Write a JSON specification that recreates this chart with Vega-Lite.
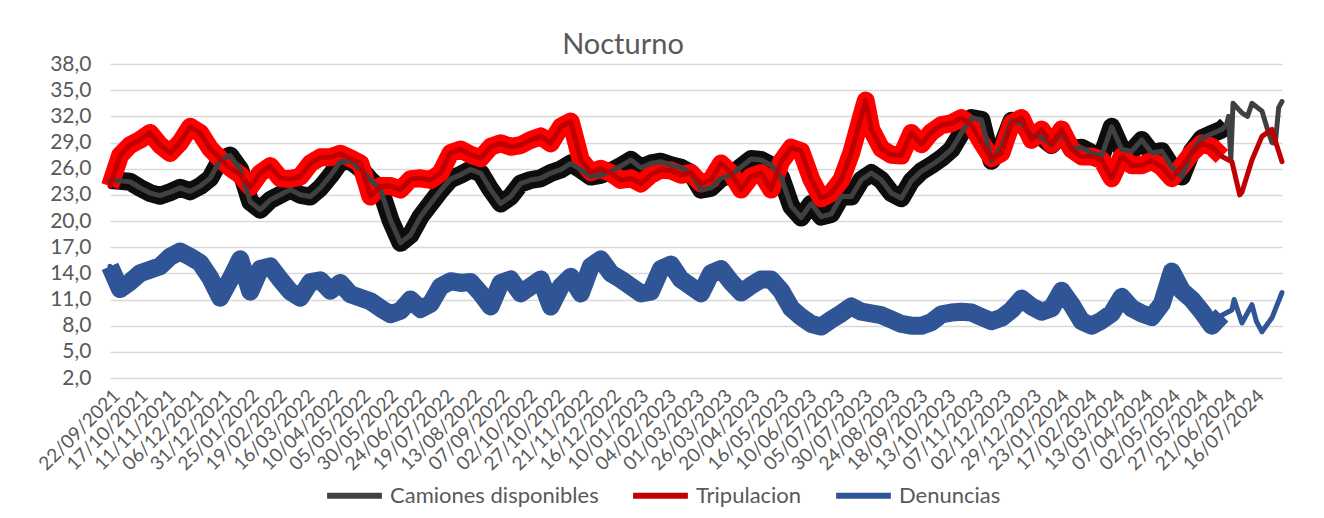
{
  "$schema": "https://vega.github.io/schema/vega-lite/v6.json",
  "width": 1172,
  "height": 314,
  "autosize": {"type": "none"},
  "padding": {"left": 110, "top": 64, "right": 42, "bottom": 140},
  "background": "white",
  "config": {"font": "Lato", "view": {"stroke": null}},
  "title": {"text": "Nocturno", "fontSize": 29, "font": "Lato", "fontWeight": "normal", "color": "#595959", "dx": -73, "dy": 15, "offset": 8},
  "data": {
    "format": {"parse": {"date": "utc:'%Y-%m-%d'"}},
    "values": [
      {"date": "2021-09-22", "cam": 24.7, "tri": 24.0, "den": 14.8},
      {"date": "2021-10-01", "cam": 24.6, "tri": 27.5, "den": 12.2},
      {"date": "2021-10-10", "cam": 24.5, "tri": 28.7, "den": 13.0},
      {"date": "2021-10-19", "cam": 23.8, "tri": 29.3, "den": 14.0},
      {"date": "2021-10-28", "cam": 23.2, "tri": 30.1, "den": 14.4},
      {"date": "2021-11-06", "cam": 22.9, "tri": 28.7, "den": 14.8},
      {"date": "2021-11-15", "cam": 23.3, "tri": 27.8, "den": 15.9},
      {"date": "2021-11-24", "cam": 23.8, "tri": 29.0, "den": 16.5},
      {"date": "2021-12-03", "cam": 23.4, "tri": 30.8, "den": 15.9},
      {"date": "2021-12-12", "cam": 24.0, "tri": 30.1, "den": 15.2},
      {"date": "2021-12-21", "cam": 24.9, "tri": 28.3, "den": 13.5},
      {"date": "2021-12-30", "cam": 27.0, "tri": 27.1, "den": 11.2},
      {"date": "2022-01-08", "cam": 27.5, "tri": 26.1, "den": 13.3},
      {"date": "2022-01-17", "cam": 25.9, "tri": 25.3, "den": 15.6},
      {"date": "2022-01-26", "cam": 22.2, "tri": 23.9, "den": 11.9},
      {"date": "2022-02-04", "cam": 21.3, "tri": 25.5, "den": 14.5},
      {"date": "2022-02-13", "cam": 22.4, "tri": 26.3, "den": 14.8},
      {"date": "2022-02-22", "cam": 23.0, "tri": 24.9, "den": 13.3},
      {"date": "2022-03-03", "cam": 23.6, "tri": 24.8, "den": 11.9},
      {"date": "2022-03-12", "cam": 23.0, "tri": 25.1, "den": 11.2},
      {"date": "2022-03-21", "cam": 22.8, "tri": 26.6, "den": 13.0},
      {"date": "2022-03-30", "cam": 23.8, "tri": 27.3, "den": 13.2},
      {"date": "2022-04-08", "cam": 25.2, "tri": 27.3, "den": 12.0},
      {"date": "2022-04-17", "cam": 26.8, "tri": 27.7, "den": 12.9},
      {"date": "2022-04-26", "cam": 26.9, "tri": 27.2, "den": 11.6},
      {"date": "2022-05-05", "cam": 26.0, "tri": 26.6, "den": 11.2},
      {"date": "2022-05-14", "cam": 24.7, "tri": 22.8, "den": 10.8},
      {"date": "2022-05-23", "cam": 23.6, "tri": 24.0, "den": 10.0},
      {"date": "2022-06-01", "cam": 20.1, "tri": 24.0, "den": 9.3},
      {"date": "2022-06-10", "cam": 17.5, "tri": 23.6, "den": 9.7},
      {"date": "2022-06-19", "cam": 18.4, "tri": 24.8, "den": 11.0},
      {"date": "2022-06-28", "cam": 20.5, "tri": 24.9, "den": 9.9},
      {"date": "2022-07-07", "cam": 22.0, "tri": 24.7, "den": 10.5},
      {"date": "2022-07-16", "cam": 23.5, "tri": 25.5, "den": 12.5},
      {"date": "2022-07-25", "cam": 24.8, "tri": 27.8, "den": 13.1},
      {"date": "2022-08-03", "cam": 25.3, "tri": 28.2, "den": 12.9},
      {"date": "2022-08-12", "cam": 25.9, "tri": 27.6, "den": 13.0},
      {"date": "2022-08-21", "cam": 25.5, "tri": 27.2, "den": 11.7},
      {"date": "2022-08-30", "cam": 23.6, "tri": 28.5, "den": 10.2},
      {"date": "2022-09-08", "cam": 22.0, "tri": 28.9, "den": 12.9},
      {"date": "2022-09-17", "cam": 22.8, "tri": 28.5, "den": 13.3},
      {"date": "2022-09-26", "cam": 24.3, "tri": 28.7, "den": 11.7},
      {"date": "2022-10-05", "cam": 24.7, "tri": 29.3, "den": 12.5},
      {"date": "2022-10-14", "cam": 24.9, "tri": 29.7, "den": 13.3},
      {"date": "2022-10-23", "cam": 25.5, "tri": 28.9, "den": 10.2},
      {"date": "2022-11-01", "cam": 25.9, "tri": 30.8, "den": 12.5},
      {"date": "2022-11-10", "cam": 26.6, "tri": 31.4, "den": 13.6},
      {"date": "2022-11-19", "cam": 25.9, "tri": 27.0, "den": 11.7},
      {"date": "2022-11-28", "cam": 25.1, "tri": 25.6, "den": 14.8},
      {"date": "2022-12-07", "cam": 25.3, "tri": 26.0, "den": 15.6},
      {"date": "2022-12-16", "cam": 25.7, "tri": 25.5, "den": 14.0},
      {"date": "2022-12-25", "cam": 26.3, "tri": 24.7, "den": 13.3},
      {"date": "2023-01-03", "cam": 27.0, "tri": 24.9, "den": 12.5},
      {"date": "2023-01-12", "cam": 26.1, "tri": 24.3, "den": 11.7},
      {"date": "2023-01-21", "cam": 26.6, "tri": 25.3, "den": 11.9},
      {"date": "2023-01-30", "cam": 26.8, "tri": 25.9, "den": 14.5},
      {"date": "2023-02-08", "cam": 26.4, "tri": 25.8, "den": 15.0},
      {"date": "2023-02-17", "cam": 26.1, "tri": 25.3, "den": 13.3},
      {"date": "2023-02-26", "cam": 25.5, "tri": 25.5, "den": 12.5},
      {"date": "2023-03-07", "cam": 23.6, "tri": 24.3, "den": 11.7},
      {"date": "2023-03-16", "cam": 23.8, "tri": 24.7, "den": 14.0},
      {"date": "2023-03-25", "cam": 24.9, "tri": 26.6, "den": 14.5},
      {"date": "2023-04-03", "cam": 25.3, "tri": 25.5, "den": 13.0},
      {"date": "2023-04-12", "cam": 26.2, "tri": 23.6, "den": 11.8},
      {"date": "2023-04-21", "cam": 27.1, "tri": 25.1, "den": 12.6},
      {"date": "2023-04-30", "cam": 27.0, "tri": 25.5, "den": 13.3},
      {"date": "2023-05-09", "cam": 26.4, "tri": 23.6, "den": 13.3},
      {"date": "2023-05-18", "cam": 25.0, "tri": 26.8, "den": 12.0},
      {"date": "2023-05-27", "cam": 21.7, "tri": 28.4, "den": 10.0},
      {"date": "2023-06-05", "cam": 20.4, "tri": 28.0, "den": 9.0},
      {"date": "2023-06-14", "cam": 22.0, "tri": 24.8, "den": 8.2},
      {"date": "2023-06-23", "cam": 20.5, "tri": 22.6, "den": 7.9},
      {"date": "2023-07-02", "cam": 20.8, "tri": 23.2, "den": 8.7},
      {"date": "2023-07-11", "cam": 22.8, "tri": 24.7, "den": 9.4},
      {"date": "2023-07-20", "cam": 22.8, "tri": 27.8, "den": 10.2},
      {"date": "2023-07-29", "cam": 24.7, "tri": 32.0, "den": 9.6},
      {"date": "2023-08-02", "tri": 33.8},
      {"date": "2023-08-07", "cam": 25.5, "tri": 30.5, "den": 9.4},
      {"date": "2023-08-16", "cam": 24.7, "tri": 28.3, "den": 9.2},
      {"date": "2023-08-25", "cam": 23.2, "tri": 27.6, "den": 8.7},
      {"date": "2023-09-03", "cam": 22.6, "tri": 27.5, "den": 8.2},
      {"date": "2023-09-12", "cam": 24.6, "tri": 30.1, "den": 8.0},
      {"date": "2023-09-21", "cam": 25.7, "tri": 28.8, "den": 8.0},
      {"date": "2023-09-30", "cam": 26.4, "tri": 30.2, "den": 8.4},
      {"date": "2023-10-09", "cam": 27.2, "tri": 31.0, "den": 9.3},
      {"date": "2023-10-18", "cam": 28.2, "tri": 31.2, "den": 9.5},
      {"date": "2023-10-27", "cam": 30.1, "tri": 31.8, "den": 9.6},
      {"date": "2023-11-05", "cam": 31.8, "tri": 31.0, "den": 9.5},
      {"date": "2023-11-14", "cam": 31.6, "tri": 29.0, "den": 9.0},
      {"date": "2023-11-23", "cam": 26.9, "tri": 27.2, "den": 8.5},
      {"date": "2023-12-02", "cam": 28.5, "tri": 27.8, "den": 8.9},
      {"date": "2023-12-11", "cam": 31.5, "tri": 31.2, "den": 9.8},
      {"date": "2023-12-20", "cam": 31.2, "tri": 31.8, "den": 11.1},
      {"date": "2023-12-29", "cam": 29.8, "tri": 29.3, "den": 10.2},
      {"date": "2024-01-07", "cam": 29.6, "tri": 30.5, "den": 9.6},
      {"date": "2024-01-16", "cam": 28.7, "tri": 28.8, "den": 10.0},
      {"date": "2024-01-25", "cam": 30.1, "tri": 30.5, "den": 12.0},
      {"date": "2024-02-03", "cam": 28.3, "tri": 28.2, "den": 10.4},
      {"date": "2024-02-12", "cam": 28.4, "tri": 27.4, "den": 8.5},
      {"date": "2024-02-21", "cam": 27.8, "tri": 27.4, "den": 8.0},
      {"date": "2024-03-01", "cam": 27.5, "tri": 27.0, "den": 8.6},
      {"date": "2024-03-10", "cam": 30.8, "tri": 24.9, "den": 9.4},
      {"date": "2024-03-19", "cam": 28.2, "tri": 27.4, "den": 11.3},
      {"date": "2024-03-28", "cam": 28.0, "tri": 26.4, "den": 10.0},
      {"date": "2024-04-06", "cam": 29.3, "tri": 26.4, "den": 9.4},
      {"date": "2024-04-15", "cam": 27.8, "tri": 26.9, "den": 9.0},
      {"date": "2024-04-24", "cam": 28.0, "tri": 26.2, "den": 10.5},
      {"date": "2024-05-03", "cam": 26.2, "tri": 24.9, "den": 14.2},
      {"date": "2024-05-12", "cam": 25.1, "tri": 26.3, "den": 12.0},
      {"date": "2024-05-21", "cam": 28.0, "tri": 27.8, "den": 11.0},
      {"date": "2024-05-30", "cam": 29.5, "tri": 28.9, "den": 9.6},
      {"date": "2024-06-08", "cam": 30.0, "tri": 28.5, "den": 8.0},
      {"date": "2024-06-17", "cam": 30.5, "tri": 27.4, "den": 9.2},
      {"date": "2024-06-21", "cam": 31.0},
      {"date": "2024-06-23", "cam": 32.0},
      {"date": "2024-06-25", "cam": 27.0},
      {"date": "2024-06-26", "tri": 26.8, "den": 9.8},
      {"date": "2024-06-27", "cam": 33.5},
      {"date": "2024-06-28", "den": 11.0},
      {"date": "2024-07-03", "tri": 23.0},
      {"date": "2024-07-05", "cam": 32.4, "tri": 23.3, "den": 8.3},
      {"date": "2024-07-10", "cam": 32.0},
      {"date": "2024-07-14", "cam": 33.5, "tri": 27.0, "den": 10.4},
      {"date": "2024-07-18", "den": 8.5},
      {"date": "2024-07-23", "cam": 32.6, "tri": 29.7, "den": 7.3},
      {"date": "2024-07-28", "cam": 30.5},
      {"date": "2024-08-01", "cam": 29.0, "tri": 30.5, "den": 8.9},
      {"date": "2024-08-04", "cam": 28.9},
      {"date": "2024-08-05", "tri": 28.8},
      {"date": "2024-08-07", "cam": 33.0},
      {"date": "2024-08-10", "cam": 33.7, "tri": 26.8, "den": 11.8}
    ]
  },
  "transform": [
    {"fold": ["cam", "tri", "den"], "as": ["serie", "valor"]},
    {"filter": "isValid(datum.valor)"}
  ],
  "encoding": {
    "x": {
      "field": "date",
      "type": "temporal",
      "scale": {"type": "utc", "domain": [{"year": 2021, "month": 9, "date": 22, "utc": true}, {"year": 2024, "month": 8, "date": 10, "utc": true}]},
      "axis": {
        "title": null,
        "labelExpr": "utcFormat(datum.value, '%d/%m/%Y')",
        "labelAngle": -45,
        "labelFontSize": 19,
        "labelColor": "#595959",
        "labelOverlap": false,
        "labelFlush": false,
        "labelPadding": 8,
        "labelLimit": 300,
        "grid": false,
        "ticks": false,
        "domain": false,
        "values": [
          {"year": 2021, "month": 9, "date": 22, "utc": true},
          {"year": 2021, "month": 10, "date": 17, "utc": true},
          {"year": 2021, "month": 11, "date": 11, "utc": true},
          {"year": 2021, "month": 12, "date": 6, "utc": true},
          {"year": 2021, "month": 12, "date": 31, "utc": true},
          {"year": 2022, "month": 1, "date": 25, "utc": true},
          {"year": 2022, "month": 2, "date": 19, "utc": true},
          {"year": 2022, "month": 3, "date": 16, "utc": true},
          {"year": 2022, "month": 4, "date": 10, "utc": true},
          {"year": 2022, "month": 5, "date": 5, "utc": true},
          {"year": 2022, "month": 5, "date": 30, "utc": true},
          {"year": 2022, "month": 6, "date": 24, "utc": true},
          {"year": 2022, "month": 7, "date": 19, "utc": true},
          {"year": 2022, "month": 8, "date": 13, "utc": true},
          {"year": 2022, "month": 9, "date": 7, "utc": true},
          {"year": 2022, "month": 10, "date": 2, "utc": true},
          {"year": 2022, "month": 10, "date": 27, "utc": true},
          {"year": 2022, "month": 11, "date": 21, "utc": true},
          {"year": 2022, "month": 12, "date": 16, "utc": true},
          {"year": 2023, "month": 1, "date": 10, "utc": true},
          {"year": 2023, "month": 2, "date": 4, "utc": true},
          {"year": 2023, "month": 3, "date": 1, "utc": true},
          {"year": 2023, "month": 3, "date": 26, "utc": true},
          {"year": 2023, "month": 4, "date": 20, "utc": true},
          {"year": 2023, "month": 5, "date": 16, "utc": true},
          {"year": 2023, "month": 6, "date": 10, "utc": true},
          {"year": 2023, "month": 7, "date": 5, "utc": true},
          {"year": 2023, "month": 7, "date": 30, "utc": true},
          {"year": 2023, "month": 8, "date": 24, "utc": true},
          {"year": 2023, "month": 9, "date": 18, "utc": true},
          {"year": 2023, "month": 10, "date": 13, "utc": true},
          {"year": 2023, "month": 11, "date": 7, "utc": true},
          {"year": 2023, "month": 12, "date": 2, "utc": true},
          {"year": 2023, "month": 12, "date": 29, "utc": true},
          {"year": 2024, "month": 1, "date": 23, "utc": true},
          {"year": 2024, "month": 2, "date": 17, "utc": true},
          {"year": 2024, "month": 3, "date": 13, "utc": true},
          {"year": 2024, "month": 4, "date": 7, "utc": true},
          {"year": 2024, "month": 5, "date": 2, "utc": true},
          {"year": 2024, "month": 5, "date": 27, "utc": true},
          {"year": 2024, "month": 6, "date": 21, "utc": true},
          {"year": 2024, "month": 7, "date": 16, "utc": true}
        ]
      }
    },
    "y": {
      "field": "valor",
      "type": "quantitative",
      "scale": {"domain": [2, 38], "nice": false, "zero": false},
      "axis": {
        "title": null,
        "values": [2, 5, 8, 11, 14, 17, 20, 23, 26, 29, 32, 35, 38],
        "labelExpr": "replace(format(datum.value, '.1f'), '.', ',')",
        "labelFontSize": 21,
        "labelColor": "#595959",
        "labelPadding": 19,
        "grid": true,
        "gridColor": "#d9d9d9",
        "gridWidth": 1.5,
        "ticks": false,
        "domain": false
      }
    }
  },
  "layer": [
    {
      "transform": [{"filter": {"field": "date", "lte": {"year": 2024, "month": 6, "date": 21, "utc": true}}}],
      "mark": {"type": "line", "strokeWidth": 18, "strokeJoin": "round", "strokeCap": "butt"},
      "encoding": {
        "color": {"field": "serie", "type": "nominal", "scale": {"domain": ["cam", "tri", "den"], "range": ["#0d0d0d", "#ff0000", "#2f5597"]}, "legend": null}
      }
    },
    {
      "mark": {"type": "line", "strokeWidth": 5, "strokeJoin": "round", "strokeCap": "round"},
      "encoding": {
        "color": {
          "field": "serie",
          "type": "nominal",
          "scale": {"domain": ["cam", "tri", "den"], "range": ["#404040", "#c00000", "#2f5597"]},
          "legend": {
            "title": null,
            "orient": "none",
            "legendX": 214,
            "legendY": 401,
            "direction": "horizontal",
            "symbolType": "stroke",
            "symbolStrokeWidth": 6,
            "symbolSize": 3000,
            "labelFontSize": 22,
            "labelColor": "#595959",
            "labelOffset": 5,
            "labelLimit": 400,
            "columnPadding": 22,
            "labelExpr": "datum.value == 'cam' ? 'Camiones disponibles' : datum.value == 'tri' ? 'Tripulacion' : 'Denuncias'"
          }
        }
      }
    }
  ],
  "resolve": {"scale": {"color": "independent"}, "legend": {"color": "independent"}}
}
